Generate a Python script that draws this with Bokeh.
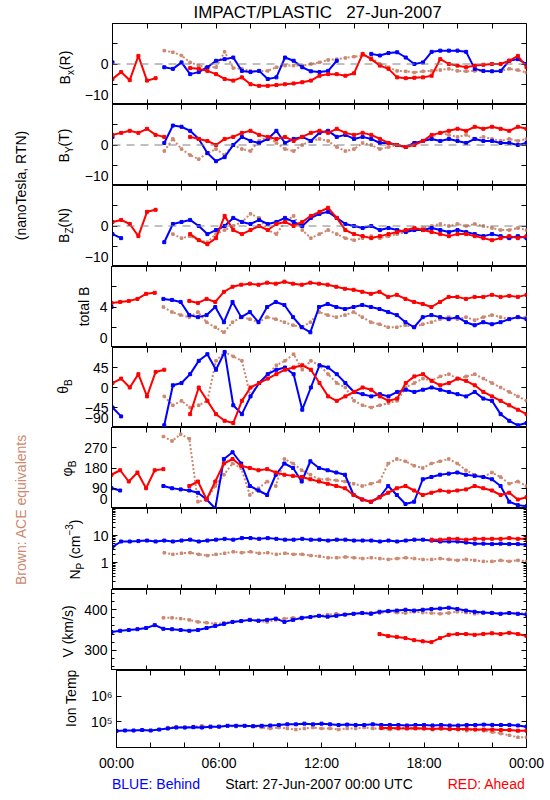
import math
from bokeh.plotting import figure
from bokeh.layouts import column, row
from bokeh.models import Label, FixedTicker, LinearAxis, LogAxis, Range1d, Span
from bokeh.embed import file_html
from bokeh.resources import INLINE

N = float("nan")

hours = [0, 0.5, 1, 1.5, 2, 2.5, 3, 3.5, 4, 4.5, 5, 5.5, 6, 6.5, 7, 7.5,
         8, 8.5, 9, 9.5, 10, 10.5, 11, 11.5, 12, 12.5, 13, 13.5, 14, 14.5, 15, 15.5,
         16, 16.5, 17, 17.5, 18, 18.5, 19, 19.5, 20, 20.5, 21, 21.5, 22, 22.5, 23, 23.5, 24]

x_ticks = [0, 2, 4, 6, 8, 10, 12, 14, 16, 18, 20, 22, 24]
x_labels = {0: "00:00", 6: "06:00", 12: "12:00", 18: "18:00", 24: "00:00"}

# ---- Bx (R) ----
bx_blue = [0.4, N, N, N, N, N, -0.8, -1.2, 0.4, -2.5, -2.0, -0.8, 0.8, 1.2, 1.6, -1.7,
           -2.0, -1.7, -3.7, -3.3, 1.6, 0.8, -0.8, -1.8, -2.0, -1.7, 0.8, N, N, N, 2.5, 2.1,
           2.7, 2.9, 1.6, 0.0, 0.4, 3.0, 3.3, 3.3, 3.3, 3.0, -1.2, -1.7, -1.8, -1.7, 0.8, 1.2, 0.0]
bx_red = [-3.7, -2.0, -4.0, 2.0, -4.1, -3.5, N, N, N, -1.0, -1.2, -1.7, -2.5, -3.7, -4.1, -3.3,
          -5.0, -5.4, -5.4, -5.2, -5.0, -4.8, -4.5, -4.1, -2.9, -2.5, -2.5, -2.9, -2.3, 2.5, 1.2, -0.4,
          -1.2, -3.3, -3.5, -3.4, -3.3, -2.9, 1.2, 0.0, -0.4, -0.8, -0.4, -0.2, 0.0, 0.0, 0.8, 2.0, -0.8]
bx_ace = [N, N, N, N, N, N, 3.3, 2.9, 2.1, 0.4, -0.4, -0.8, -0.8, 3.0, -1.0, -1.2,
          -1.7, -1.8, -1.7, -0.8, -0.4, -0.4, -0.4, 0.0, 0.4, 1.0, 1.2, 1.5, 1.8, 2.1, 1.6, 0.0,
          -0.8, -1.7, -1.8, -2.1, -1.8, -1.7, -1.5, -1.2, -1.7, -1.8, -1.7, -1.7, -1.8, -1.7, -1.2, -1.5, -2.1]

# ---- By (T) ----
by_blue = [2.0, N, N, N, N, N, 0.5, 4.8, 4.5, 3.5, 1.5, -2.0, -4.0, -3.0, 0.0, 2.0,
           1.0, 0.5, 1.5, 3.5, 0.5, 1.5, 2.0, 1.0, 3.0, 3.5, 2.0, 2.5, 1.5, 2.0, 1.5, 0.5,
           0.5, 0.0, -0.5, 0.5, 1.0, 1.5, 1.0, 1.5, 1.0, 0.5, 1.5, 1.0, 1.0, 0.5, 0.5, 0.0, 0.5]
by_red = [2.5, 3.0, 3.5, 3.0, 4.0, 2.5, 2.0, N, N, 2.0, 1.5, 1.0, 0.0, 1.5, 2.0, 3.0,
          3.5, 2.5, 2.0, 1.5, 2.0, 1.0, 2.0, 3.0, 3.5, 3.0, 4.0, 3.0, 2.5, 3.0, 2.5, 1.5,
          0.5, 0.0, -0.5, 0.0, 1.0, 2.5, 3.0, 3.5, 4.0, 3.5, 4.5, 4.0, 4.5, 4.0, 3.5, 4.5, 4.0]
by_ace = [N, N, N, N, N, N, -1.5, 1.5, -1.0, -2.5, -3.5, -2.0, -1.0, -2.5, 0.0, -1.0,
          -1.5, 1.0, 2.0, 0.5, -1.0, -1.5, 0.0, 1.0, 1.5, 1.0, -0.5, -1.5, -1.0, 0.5, 0.0, -1.0,
          -0.5, 0.0, -0.5, 0.5, 1.0, 2.0, 3.0, 2.5, 2.0, 2.5, 1.5, 2.0, 1.5, 1.0, 1.5, 1.0, 1.5]

# ---- Bz (N) ----
bz_blue = [-2.0, -3.0, N, N, N, N, -4.0, 0.5, 1.0, 1.5, 0.0, -2.0, -1.0, 0.0, 2.0, 1.0,
           0.5, 1.5, 0.5, 1.0, 2.0, 1.0, 0.0, 2.0, 3.0, 3.5, 2.0, 0.5, 0.0, -0.5, 0.0, -1.0,
           -0.5, -1.0, -1.5, -1.0, -1.0, -0.5, -1.0, -1.5, -1.0, -1.5, -2.0, -2.5, -2.0, -2.5, -3.0, -2.5, -3.0]
bz_red = [1.0, 1.5, 0.5, -2.5, 3.5, 4.0, N, N, N, -2.0, -3.5, -4.5, -3.0, 2.5, -1.0, -2.0,
          -1.0, 0.0, -1.0, 0.5, 1.0, 0.0, 1.0, 2.5, 3.5, 4.5, 2.0, -1.0, -2.0, -2.5, -3.0, -2.5,
          -2.0, -1.5, -1.0, -0.5, -1.0, -1.5, -2.0, -2.5, -2.0, -2.0, -2.5, -3.0, -3.5, -3.0, -2.5, -3.0, -2.5]
bz_ace = [N, N, N, N, N, N, N, -2.0, -3.0, -2.5, -3.5, -4.0, -2.0, -1.0, 0.0, 1.0,
          3.0, 2.0, -1.0, -2.0, 1.0, 2.5, -1.0, -3.0, -2.0, -1.0, -2.0, -3.0, -3.5, -3.0, -2.5, -3.0,
          -2.5, -2.0, -1.5, -1.0, -0.5, 0.0, 0.5, 0.0, 0.5, 0.0, 0.5, 0.0, -0.5, -1.0, -1.0, -0.5, -1.0]

# ---- total B ----
bt_blue = [4.0, N, N, N, N, N, 4.8, 4.7, 4.5, 3.2, 3.0, 3.2, 4.0, 2.5, 4.5, 3.0,
           3.5, 2.5, 4.0, 4.5, 4.2, 3.0, 2.0, 1.5, 4.0, 4.3, 4.0, 3.8, 4.0, 4.2, 4.0, 3.8,
           3.5, 3.2, 2.5, 2.0, 3.0, 3.2, 3.0, 2.8, 3.0, 2.5, 2.2, 2.5, 2.3, 2.5, 2.8, 3.0, 2.8]
bt_red = [4.4, 4.5, 4.6, 4.8, 5.3, 5.4, N, N, N, 4.6, 4.4, 4.8, 4.5, 5.5, 6.0, 6.2,
          6.3, 6.2, 6.4, 6.3, 6.5, 6.3, 6.2, 6.4, 6.3, 6.2, 6.0, 5.8, 5.7, 5.5, 5.3, 5.5,
          5.0, 5.2, 4.8, 4.5, 4.3, 4.0, 4.5, 5.0, 5.0, 4.8, 5.0, 5.0, 5.2, 5.0, 5.1, 5.0, 5.2]
bt_ace = [N, N, N, N, N, N, 4.0, 3.5, 3.2, 3.0, 3.5, 2.5, 2.0, 1.5, 2.5, 3.0,
          2.8, 2.5, 3.0, 2.8, 2.5, 2.2, 2.0, 2.5, 3.5, 3.2, 3.0, 3.2, 3.5, 3.0, 2.5, 2.3,
          2.0, 2.0, 2.2, 2.0, 2.3, 2.5, 2.8, 3.0, 2.8, 3.0, 2.7, 3.0, 3.2, 3.0, 2.8, 3.0, 3.0]

# ---- theta_B ----
th_blue = [-45, -65, N, N, N, N, -85, 5, 10, 30, 60, 75, 40, 80, -40, -60,
           -20, 10, 30, 40, 45, 30, -50, 0, 50, 45, 30, 10, -10, -15, -20, -15,
           -20, -10, -5, -10, -5, 0, -5, -10, -15, -20, -10, -25, -30, -60, -75, -85, -80]
th_red = [10, 20, 0, 30, -20, 35, 40, N, N, -60, 0, -30, -60, -75, -80, -30,
          0, 10, 20, 30, 40, 45, 50, 40, 10, -20, -30, -20, -10, 0, -5, -20,
          -30, -25, 10, 25, 30, 15, 5, 10, 20, 15, 5, -10, -20, -30, -40, -50, -60]
th_ace = [N, N, N, N, N, N, -20, -40, -30, -45, -40, -30, 60, 80, 70, 60,
          -20, 10, 30, 50, 60, 75, 40, 60, 50, 30, 10, 0, -30, -40, -45, -40,
          -35, -30, 0, 10, 20, 15, 25, 30, 20, 25, 30, 20, 10, 0, -10, -20, -30]

# ---- phi_B ----
ph_blue = [90, 80, N, N, N, N, 100, 90, 85, 80, 70, 40, 0, 220, 250, 200,
           100, 80, 60, 150, 200, 180, 120, 210, 180, 170, 160, 150, 60, 40, 30, 50,
           100, 60, 20, 30, 130, 140, 150, 155, 160, 150, 145, 140, 130, 100, 30, 15, 10]
ph_red = [150, 170, 120, 160, 90, 170, 175, N, N, 100, 120, 40, 120, 200, 220, 190,
          180, 170, 175, 160, 150, 145, 140, 130, 120, 110, 100, 90, 60, 40, 30, 50,
          70, 90, 100, 80, 60, 70, 80, 75, 80, 85, 100, 90, 80, 60, 70, 40, 50]
ph_ace = [N, N, N, N, N, N, 320, 300, 330, 310, 30, 40, 100, 150, 200, 180,
          60, 90, 120, 100, 220, 200, 170, 150, 130, 130, 125, 120, 110, 100, 110, 120,
          200, 220, 210, 190, 180, 200, 210, 220, 200, 170, 150, 140, 160, 140, 110, 120, 100]

# ---- Np ----
np_blue = [3.8, 6.0, 6.0, 6.2, 6.5, 6.0, 6.5, 6.0, 6.5, 7.0, 6.0, 6.5, 7.0, 7.5, 7.0, 8.0,
           8.0, 7.5, 8.0, 7.5, 7.0, 7.0, 7.5, 7.0, 7.0, 6.5, 7.0, 7.0, 6.5, 6.5, 6.5, 6.0,
           6.5, 6.0, 6.5, 7.0, 7.0, 6.5, 6.0, 6.0, 6.0, 5.5, 5.0, 5.0, 4.8, 5.0, 4.8, 4.8, 4.5]
np_red = [N, N, N, N, N, N, N, N, N, N, N, N, N, N, N, N,
          N, N, N, N, N, N, N, N, N, N, N, N, N, N, N, N,
          N, N, N, N, N, 7.0, 7.0, 7.5, 7.5, 7.0, 7.5, 7.5, 7.5, 7.5, 8.0, 7.5, 7.5]
np_ace = [N, N, N, N, N, N, 2.3, 2.0, 2.2, 2.3, 2.0, 1.8, 2.0, 2.2, 2.5, 2.3,
          2.5, 2.2, 2.3, 2.0, 2.2, 2.0, 2.0, 1.8, 1.7, 1.5, 1.5, 1.6, 1.5, 1.4, 1.5, 1.4,
          1.3, 1.4, 1.5, 1.4, 1.3, 1.3, 1.4, 1.3, 1.2, 1.3, 1.2, 1.1, 1.1, 1.2, 1.1, 1.2, 1.1]

# ---- V ----
v_blue = [345, 348, 350, 352, 355, 362, 353, 352, 350, 348, 350, 355, 360, 365, 370, 372,
          375, 373, 375, 378, 370, 375, 380, 382, 385, 383, 385, 388, 390, 392, 390, 395,
          397, 398, 400, 398, 400, 402, 403, 405, 402, 398, 395, 393, 392, 390, 392, 390, 388]
v_red = [N, N, N, N, N, N, N, N, N, N, N, N, N, N, N, N,
         N, N, N, N, N, N, N, N, N, N, N, N, N, N, N, 340,
         335, 333, 330, 325, 322, 320, 330, 338, 340, 340, 338, 340, 342, 340, 343, 340, 335]
v_ace = [N, N, N, N, N, N, 380, 380, 378, 375, 370, 368, 365, 368, 370, 372,
         375, 372, 370, 375, 378, 380, 378, 382, 385, 388, 390, 388, 390, 392, 393, 392,
         395, 393, 392, 395, 393, 392, 390, 392, 395, 393, 390, 392, 393, 390, 392, 390, 392]

# ---- Ion Temp ----
t_blue = [4.4e4, 4.6e4, 4.6e4, 4.8e4, 4.6e4, 5.0e4, 5.5e4, 6.0e4, 6.0e4, 6.2e4, 6.0e4, 6.5e4, 6.5e4, 7.0e4, 7.0e4, 7.0e4,
          6.8e4, 7.0e4, 7.2e4, 7.5e4, 8.0e4, 8.0e4, 8.5e4, 8.0e4, 8.5e4, 8.0e4, 7.5e4, 7.8e4, 7.5e4, 7.5e4, 8.0e4, 7.5e4,
          7.5e4, 7.5e4, 7.2e4, 7.5e4, 7.5e4, 7.2e4, 7.5e4, 7.2e4, 7.2e4, 7.5e4, 7.5e4, 7.8e4, 7.6e4, 7.5e4, 7.6e4, 7.2e4, 6.5e4]
t_red = [N, N, N, N, N, N, N, N, N, N, N, N, N, N, N, N,
         N, N, N, N, N, N, N, N, N, N, N, N, N, N, N, 5.8e4,
         5.8e4, 5.6e4, 5.5e4, 5.6e4, 5.5e4, 5.3e4, 5.5e4, 5.3e4, 5.2e4, 5.2e4, 5.0e4, 5.0e4, 5.0e4, 4.8e4, 4.8e4, 4.5e4, 4.5e4]
t_ace = [N, N, N, N, N, N, 6.0e4, 6.5e4, 6.0e4, 6.5e4, 7.0e4, 6.0e4, 6.5e4, 7.0e4, 6.5e4, 7.0e4,
         6.5e4, 6.0e4, 5.5e4, 6.0e4, 5.5e4, 5.0e4, 5.5e4, 6.0e4, 5.5e4, 5.5e4, 5.0e4, 5.5e4, 5.5e4, 6.0e4, 5.5e4, 5.5e4,
         5.0e4, 5.5e4, 6.0e4, 5.5e4, 5.5e4, 5.0e4, 5.5e4, 5.0e4, 5.0e4, 4.5e4, 5.0e4, 4.5e4, 4.0e4, 3.5e4, 3.0e4, 2.5e4, 2.5e4]

# ---------------- styling ----------------
FONT = "Liberation Sans"
BLUE = "#0000FF"
RED = "#FF0000"
BROWN = "#CC8870"

PAGE_W = 546
SIDE_W = 48          # strip holding the two long side captions
FRAME_LEFT = 111     # page x of every panel frame's left edge
FRAME_W = 415
RIGHT = 20
TITLE_H = 23
BOTTOM_H = 22

CW = {"B": 667, "x": 500, "Y": 667, "Z": 611, "R": 722, "T": 611, "N": 722, "(": 333, ")": 333,
      " ": 278, "\u00a0": 278, "t": 278, "o": 556, "a": 556, "l": 222, "θ": 556, "φ": 650, "P": 667,
      "c": 500, "m": 833, "−": 584, "3": 556, "V": 667, "k": 500, "/": 278, "s": 500, "I": 278,
      "n": 556, "e": 556, "p": 556}


def text_w(t, size):
    return sum(CW.get(ch, 556) for ch in t) / 1000.0 * size


def strip(w, h):
    s = figure(width=w, height=h, x_range=Range1d(0, w), y_range=Range1d(0, h),
               x_axis_location=None, y_axis_location=None, output_backend="svg",
               toolbar_location=None, min_border=0)
    s.min_border_left = 0
    s.min_border_right = 0
    s.min_border_top = 0
    s.min_border_bottom = 0
    s.grid.visible = False
    s.outline_line_color = None
    return s


def rotated_label(p, parts, xc, yc, color="black"):
    total = sum(text_w(t, s) for t, s, o in parts)
    y = yc - total / 2.0
    for t, s, o in parts:
        p.add_layout(Label(x=xc + o, y=y, text=t, angle=math.pi / 2, text_align="left",
                           text_baseline="middle", text_font=FONT, text_font_size=f"{s}px",
                           text_color=color))
        y += text_w(t, s)


def style_ticks(ax, ticks, minor, labels):
    ax.ticker = FixedTicker(ticks=ticks, minor_ticks=minor)
    ax.major_label_overrides = {k: labels.get(k, "") for k in ticks}
    ax.major_tick_in = 5
    ax.major_tick_out = 0
    ax.minor_tick_in = 3
    ax.minor_tick_out = 0
    ax.major_tick_line_color = "black"
    ax.minor_tick_line_color = "black"
    ax.major_label_text_font = FONT
    ax.major_label_text_font_size = "14px"
    ax.major_label_text_color = "black"


panels = [
    dict(y=(-10, 10), log=False, ticks=[-10, -5, 0, 5, 10], minor=[], labels={0: "0"},
         low=(-7.7, "−10"), series=(bx_ace, bx_blue, bx_red), zero=True, h=81,
         lab=[("B", 14, 0), ("x", 10, 6), ("(R)", 14, 0)], lw=33, lx=64, ly=37),
    dict(y=(-10, 10), log=False, ticks=[-10, -5, 0, 5, 10], minor=[], labels={0: "0"},
         low=(-7.7, "−10"), series=(by_ace, by_blue, by_red), zero=True, h=81,
         lab=[("B", 14, 0), ("Y", 10, 6), ("(T)", 14, 0)], lw=33, lx=63, ly=40),
    dict(y=(-10, 10), log=False, ticks=[-10, -5, 0, 5, 10], minor=[], labels={0: "0"},
         low=(-7.7, "−10"), series=(bz_ace, bz_blue, bz_red), zero=True, h=81,
         lab=[("B", 14, 0), ("Z", 10, 6), ("(N)", 14, 0)], lw=33, lx=63, ly=41),
    dict(y=(0, 8), log=False, ticks=[0, 2, 4, 6, 8], minor=[], labels={4: "4"},
         low=(0.92, "0"), series=(bt_ace, bt_blue, bt_red), zero=False, h=81,
         lab=[("total B", 14, 0)], lw=48, lx=83, ly=41),
    dict(y=(-90, 90), log=False, ticks=[-90, -45, 0, 45, 90], minor=[],
         labels={-45: "−45", 0: "0", 45: "45"}, low=(-69, "−90"),
         series=(th_ace, th_blue, th_red), zero=False, h=80,
         lab=[("θ", 14, 0), ("B", 10, 6)], lw=33, lx=62, ly=41),
    dict(y=(0, 360), log=False, ticks=[0, 90, 180, 270, 360], minor=[],
         labels={90: "90", 180: "180", 270: "270"}, low=(42, "0"),
         series=(ph_ace, ph_blue, ph_red), zero=False, h=81,
         lab=[("φ", 14, 0), ("B", 10, 6)], lw=33, lx=66, ly=40),
    dict(y=(0.1, 100), log=True, ticks=[0.1, 1, 10, 100],
         minor=[0.2, 0.3, 0.4, 0.5, 0.6, 0.7, 0.8, 0.9, 2, 3, 4, 5, 6, 7, 8, 9,
                20, 30, 40, 50, 60, 70, 80, 90],
         labels={1: "1", 10: "10"}, low=None,
         series=(np_ace, np_blue, np_red), zero=False, h=81,
         lab=[("N", 14, 0), ("P", 10, 6), ("\u00a0(cm", 14, 0), ("−3", 10, -6), (")", 14, 0)],
         lw=41, lx=74, ly=40),
    dict(y=(250, 450), log=False, ticks=[300, 400], minor=[260, 280, 320, 340, 360, 380, 420, 440],
         labels={300: "300", 400: "400"}, low=None,
         series=(v_ace, v_blue, v_red), zero=False, h=81,
         lab=[("V (km/s)", 14, 0)], lw=33, lx=67, ly=39),
    dict(y=(1e4, 1e7), log=True, ticks=[1e4, 1e5, 1e6, 1e7], minor=[],
         labels={1e5: "10⁵", 1e6: "10⁶"}, low=None,
         series=(t_ace, t_blue, t_red), zero=False, h=81,
         lab=[("Ion Temp", 14, 0)], lw=40, lx=70, ly=35),
]

rows = []
panels_h = 0
for i, spec in enumerate(panels):
    last = i == len(panels) - 1
    y0, y1 = spec["y"]
    bottom = BOTTOM_H if last else 0
    fig_h = spec["h"] + bottom
    lw = spec["lw"]
    left = FRAME_LEFT - SIDE_W - lw
    pw = left + FRAME_W + RIGHT
    p = figure(width=pw, height=fig_h, x_range=Range1d(0, 24), y_range=Range1d(y0, y1),
               y_axis_type="log" if spec["log"] else "linear",
               output_backend="svg", toolbar_location=None,
               min_border_left=left, min_border_right=RIGHT, min_border_top=0, min_border_bottom=bottom)
    p.grid.visible = False
    p.outline_line_color = "black"
    p.outline_line_width = 1
    p.outline_line_alpha = 1.0
    p.background_fill_color = "white"
    p.border_fill_color = "white"

    # bottom axis
    xa = p.xaxis[0]
    style_ticks(xa, x_ticks, [], x_labels if last else {})
    xa.major_label_standoff = 7
    if last:
        xa.axis_line_color = "black"
    else:
        xa.fixed_location = y0
        xa.axis_line_color = None
    # top axis
    ta = LinearAxis(fixed_location=y1)
    style_ticks(ta, x_ticks, [], {})
    ta.axis_line_color = None
    p.add_layout(ta, "above")
    # left axis
    ya = p.yaxis[0]
    if spec["low"] is None:
        style_ticks(ya, spec["ticks"], spec["minor"], spec["labels"])
    else:
        # labelled positions (lowest one lifted inside the panel); tick marks as minor ticks
        pos, txt = spec["low"]
        lab_pos = [pos] + [k for k in spec["ticks"] if k in spec["labels"]]
        lab_map = dict(spec["labels"])
        lab_map[pos] = txt
        style_ticks(ya, lab_pos, spec["ticks"], lab_map)
        ya.major_tick_in = 0
        ya.major_tick_line_color = None
        ya.minor_tick_in = 5
    ya.major_label_standoff = 4
    ya.axis_line_color = "black"
    # right axis
    ra = LogAxis(fixed_location=24) if spec["log"] else LinearAxis(fixed_location=24)
    style_ticks(ra, spec["ticks"], spec["minor"], {})
    ra.axis_line_color = None
    p.add_layout(ra, "right")

    if spec["zero"]:
        p.add_layout(Span(location=0, dimension="width", line_color="#808080",
                          line_dash="8 6", line_width=1))

    ace, blue, red = spec["series"]
    p.line(hours, ace, line_color=BROWN, line_width=2, line_dash="2 2")
    p.scatter(hours, ace, marker="square", size=2.5, color=BROWN)
    p.line(hours, blue, line_color=BLUE, line_width=2)
    p.scatter(hours, blue, marker="square", size=3, color=BLUE)
    p.line(hours, red, line_color=RED, line_width=2)
    p.scatter(hours, red, marker="square", size=3, color=RED)

    lab = strip(lw, fig_h)
    rotated_label(lab, spec["lab"], spec["lx"] - SIDE_W, bottom + spec["ly"])
    rows.append(row(lab, p, spacing=0))
    panels_h += fig_h

title = strip(PAGE_W, TITLE_H)
title.add_layout(Label(x=317, y=TITLE_H - 12, text="IMPACT/PLASTIC\u00a0\u00a0\u00a027-Jun-2007",
                       text_align="center", text_baseline="middle", text_font=FONT,
                       text_font_size="17px", text_color="black"))

side = strip(SIDE_W, panels_h)
side.add_layout(Label(x=20, y=panels_h - (185 - TITLE_H), text="(nanoTesla, RTN)", angle=math.pi / 2,
                      text_align="center", text_baseline="middle", text_font=FONT,
                      text_font_size="14px", text_color="black"))
side.add_layout(Label(x=20, y=panels_h - (509 - TITLE_H), text="Brown: ACE equivalents", angle=math.pi / 2,
                      text_align="center", text_baseline="middle", text_font=FONT,
                      text_font_size="14px", text_color=BROWN))

foot = strip(PAGE_W, 20)
foot.add_layout(Label(x=111.5, y=10, text="BLUE: Behind", text_align="left", text_baseline="middle",
                      text_font=FONT, text_font_size="14px", text_color=BLUE))
foot.add_layout(Label(x=318.5, y=10, text="Start: 27-Jun-2007 00:00 UTC", text_align="center",
                      text_baseline="middle", text_font=FONT, text_font_size="14px", text_color="black"))
foot.add_layout(Label(x=525, y=10, text="RED: Ahead", text_align="right", text_baseline="middle",
                      text_font=FONT, text_font_size="14px", text_color=RED))

layout = column(title, row(side, column(*rows, spacing=0), spacing=0), foot, spacing=0)

open("out.html", "w").write(file_html(layout, INLINE))
